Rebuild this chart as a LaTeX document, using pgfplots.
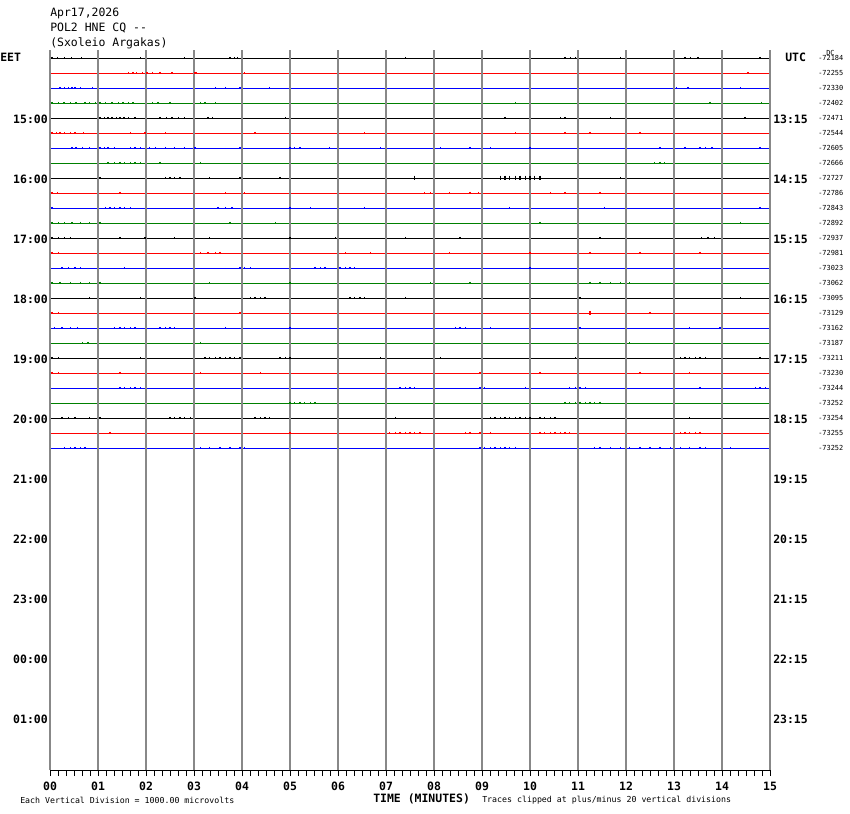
\documentclass[border=0pt]{standalone}
\usepackage{fontspec}
\setmonofont{DejaVu Sans Mono}
\usepackage{pgfplots}
\pgfplotsset{compat=1.18}
\definecolor{tblack}{RGB}{0,0,0}
\definecolor{tred}{RGB}{255,0,0}
\definecolor{tblue}{RGB}{0,0,255}
\definecolor{tgreen}{RGB}{0,128,0}
\definecolor{gridgray}{RGB}{136,136,136}
\newcommand{\fbig}{\ttfamily\fontsize{8.6pt}{10pt}\selectfont}
\newcommand{\fbigb}{\ttfamily\bfseries\fontsize{8.6pt}{10pt}\selectfont}
\newcommand{\fsml}{\ttfamily\fontsize{6.2pt}{7pt}\selectfont}
\newcommand{\ftiny}{\ttfamily\fontsize{5.2pt}{6pt}\selectfont}
\begin{document}
\begin{tikzpicture}
\useasboundingbox (0,0) rectangle (637.5pt,-610.5pt);
\begin{axis}[
  at={(37.5pt,-577.5pt)}, anchor=south west,
  width=540pt, height=540pt, scale only axis,
  xmin=0, xmax=15, ymin=0, ymax=720,
  axis x line=bottom, axis y line=none,
  axis on top,
  x axis line style={-, line width=0.75pt, black},
  xtick={0,1,...,15},
  xticklabels={00,01,02,03,04,05,06,07,08,09,10,11,12,13,14,15},
  minor x tick num=5,
  tick align=outside,
  major tick length=4.5pt, minor tick length=4.5pt,
  tick style={line width=0.75pt, black},
  xmajorgrids,
  major grid style={line width=0.9pt, gridgray},
  xticklabel style={font=\fbigb, inner sep=1pt, yshift=-3.5pt},
  clip=false,
  every axis plot/.append style={line width=0.75pt},
  trace/.style={mark=none},
  noise/.style={only marks, mark=|, mark size=0.9pt, mark options={line width=0.9pt}},
]
% ---- trace baselines ----
\addplot[tblack, trace] coordinates {(0,712) (15,712)};
\addplot[tred, trace] coordinates {(0,697) (15,697)};
\addplot[tblue, trace] coordinates {(0,682) (15,682)};
\addplot[tgreen, trace] coordinates {(0,667) (15,667)};
\addplot[tblack, trace] coordinates {(0,652) (15,652)};
\addplot[tred, trace] coordinates {(0,637) (15,637)};
\addplot[tblue, trace] coordinates {(0,622) (15,622)};
\addplot[tgreen, trace] coordinates {(0,607) (15,607)};
\addplot[tblack, trace] coordinates {(0,592) (15,592)};
\addplot[tred, trace] coordinates {(0,577) (15,577)};
\addplot[tblue, trace] coordinates {(0,562) (15,562)};
\addplot[tgreen, trace] coordinates {(0,547) (15,547)};
\addplot[tblack, trace] coordinates {(0,532) (15,532)};
\addplot[tred, trace] coordinates {(0,517) (15,517)};
\addplot[tblue, trace] coordinates {(0,502) (15,502)};
\addplot[tgreen, trace] coordinates {(0,487) (15,487)};
\addplot[tblack, trace] coordinates {(0,472) (15,472)};
\addplot[tred, trace] coordinates {(0,457) (15,457)};
\addplot[tblue, trace] coordinates {(0,442) (15,442)};
\addplot[tgreen, trace] coordinates {(0,427) (15,427)};
\addplot[tblack, trace] coordinates {(0,412) (15,412)};
\addplot[tred, trace] coordinates {(0,397) (15,397)};
\addplot[tblue, trace] coordinates {(0,382) (15,382)};
\addplot[tgreen, trace] coordinates {(0,367) (15,367)};
\addplot[tblack, trace] coordinates {(0,352) (15,352)};
\addplot[tred, trace] coordinates {(0,337) (15,337)};
\addplot[tblue, trace] coordinates {(0,322) (15,322)};
% ---- small noise ----
\addplot[tblack, noise] coordinates {(0.04,712)(0.15,712)(0.3,712)(0.45,712)(0.65,712)(1.88,712)(2.81,712)(3.75,712)(3.85,712)(3.9,712)(7.4,712)(10.73,712)(10.85,712)(10.94,712)(11.88,712)(13.23,712)(13.35,712)(13.5,712)(14.79,712)};
\addplot[tred, noise] coordinates {(1.63,697)(1.73,697)(1.81,697)(1.92,697)(2.02,697)(2.13,697)(2.29,697)(2.54,697)(3.02,697)(3.06,697)(4.06,697)(14.54,697)};
\addplot[tblue, noise] coordinates {(0.21,682)(0.31,682)(0.38,682)(0.46,682)(0.52,682)(0.63,682)(0.88,682)(3.44,682)(3.65,682)(3.96,682)(4.58,682)(13.06,682)(13.29,682)(14.38,682)};
\addplot[tgreen, noise] coordinates {(0.04,667)(0.17,667)(0.29,667)(0.42,667)(0.54,667)(0.73,667)(0.83,667)(0.94,667)(1.04,667)(1.15,667)(1.29,667)(1.42,667)(1.52,667)(1.63,667)(1.73,667)(2.13,667)(2.25,667)(2.5,667)(3.13,667)(3.23,667)(3.44,667)(9.69,667)(13.75,667)(14.83,667)};
\addplot[tblack, noise] coordinates {(1.04,652)(1.13,652)(1.21,652)(1.29,652)(1.38,652)(1.46,652)(1.54,652)(1.63,652)(1.77,652)(2.29,652)(2.42,652)(2.54,652)(2.67,652)(2.81,652)(3.29,652)(3.38,652)(4.9,652)(9.48,652)(10.63,652)(10.73,652)(11.67,652)(14.48,652)};
\addplot[tred, noise] coordinates {(0.04,637)(0.13,637)(0.21,637)(0.31,637)(0.42,637)(0.52,637)(0.69,637)(1.67,637)(1.98,637)(2.4,637)(4.27,637)(6.56,637)(9.69,637)(10.73,637)(11.25,637)(12.29,637)};
\addplot[tblue, noise] coordinates {(0.46,622)(0.54,622)(0.67,622)(0.83,622)(1.04,622)(1.13,622)(1.21,622)(1.35,622)(1.67,622)(1.77,622)(1.88,622)(2.08,622)(2.19,622)(2.4,622)(2.6,622)(2.81,622)(3.02,622)(3.96,622)(5.0,622)(5.1,622)(5.21,622)(5.83,622)(6.88,622)(8.13,622)(8.75,622)(9.17,622)(10.0,622)(12.71,622)(13.23,622)(13.54,622)(13.65,622)(13.79,622)(14.79,622)};
\addplot[tgreen, noise] coordinates {(1.21,607)(1.35,607)(1.46,607)(1.56,607)(1.67,607)(1.77,607)(1.88,607)(2.29,607)(3.13,607)(12.6,607)(12.71,607)(12.81,607)};
\addplot[tblack, noise] coordinates {(1.04,592)(2.4,592)(2.5,592)(2.6,592)(2.71,592)(3.33,592)(3.96,592)(4.79,592)(11.88,592)};
\addplot[tblack, noise, mark size=1.8pt] coordinates {(7.6,592)(9.38,592)(9.48,592)(9.58,592)(9.69,592)(9.79,592)(9.9,592)(10.0,592)(10.1,592)(10.21,592)};
\addplot[tred, noise] coordinates {(0.04,577)(0.15,577)(1.46,577)(3.65,577)(4.06,577)(7.81,577)(7.92,577)(8.33,577)(8.75,577)(8.92,577)(10.42,577)(10.73,577)(11.46,577)};
\addplot[tblue, noise] coordinates {(0.04,562)(1.15,562)(1.25,562)(1.35,562)(1.46,562)(1.56,562)(1.67,562)(3.5,562)(3.65,562)(3.79,562)(5.0,562)(5.42,562)(6.56,562)(9.58,562)(11.56,562)(14.79,562)};
\addplot[tgreen, noise] coordinates {(0.04,547)(0.17,547)(0.31,547)(0.46,547)(0.63,547)(0.83,547)(1.04,547)(3.75,547)(4.69,547)(10.21,547)(14.38,547)};
\addplot[tblack, noise] coordinates {(0.04,532)(0.17,532)(0.31,532)(0.42,532)(1.46,532)(1.98,532)(2.6,532)(3.33,532)(5.0,532)(5.94,532)(7.4,532)(8.54,532)(11.46,532)(13.58,532)(13.71,532)(13.85,532)};
\addplot[tred, noise] coordinates {(0.04,517)(0.17,517)(3.13,517)(3.29,517)(3.44,517)(3.54,517)(6.15,517)(6.67,517)(8.33,517)(10.0,517)(11.25,517)(12.29,517)(13.54,517)};
\addplot[tblue, noise] coordinates {(0.25,502)(0.38,502)(0.52,502)(0.63,502)(1.56,502)(3.96,502)(4.06,502)(4.17,502)(5.52,502)(5.63,502)(5.73,502)(6.04,502)(6.15,502)(6.25,502)(6.35,502)(10.0,502)};
\addplot[tgreen, noise] coordinates {(0.04,487)(0.21,487)(0.42,487)(0.63,487)(0.83,487)(1.04,487)(3.33,487)(5.0,487)(7.92,487)(8.75,487)(11.25,487)(11.46,487)(11.67,487)(11.88,487)(12.08,487)};
\addplot[tblack, noise] coordinates {(0.83,472)(1.88,472)(3.02,472)(4.17,472)(4.27,472)(4.38,472)(4.48,472)(6.25,472)(6.35,472)(6.46,472)(6.56,472)(7.4,472)(11.04,472)(14.38,472)};
\addplot[tred, noise] coordinates {(0.04,457)(0.17,457)(3.96,457)(12.5,457)};
\addplot[tred, noise, mark size=1.6pt] coordinates {(11.25,457)};
\addplot[tblue, noise] coordinates {(0.1,442)(0.25,442)(0.42,442)(0.58,442)(1.35,442)(1.46,442)(1.56,442)(1.67,442)(1.77,442)(2.29,442)(2.4,442)(2.5,442)(2.6,442)(3.65,442)(5.0,442)(8.44,442)(8.54,442)(8.65,442)(9.17,442)(11.04,442)(13.33,442)(13.96,442)};
\addplot[tgreen, noise] coordinates {(0.67,427)(0.79,427)(3.13,427)(12.08,427)};
\addplot[tblack, noise] coordinates {(0.04,412)(0.17,412)(1.88,412)(3.23,412)(3.33,412)(3.44,412)(3.54,412)(3.65,412)(3.75,412)(3.85,412)(3.96,412)(4.79,412)(4.9,412)(5.0,412)(6.88,412)(8.13,412)(10.94,412)(13.13,412)(13.23,412)(13.33,412)(13.44,412)(13.54,412)(13.65,412)(14.79,412)};
\addplot[tred, noise] coordinates {(0.04,397)(0.17,397)(1.46,397)(3.13,397)(4.38,397)(8.96,397)(10.21,397)(12.29,397)(13.33,397)};
\addplot[tblue, noise] coordinates {(1.46,382)(1.56,382)(1.67,382)(1.77,382)(1.88,382)(7.29,382)(7.4,382)(7.5,382)(7.6,382)(8.96,382)(9.06,382)(9.9,382)(10.83,382)(10.94,382)(11.04,382)(11.15,382)(13.54,382)(14.69,382)(14.79,382)(14.9,382)};
\addplot[tgreen, noise] coordinates {(5.0,367)(5.1,367)(5.21,367)(5.31,367)(5.42,367)(5.52,367)(10.73,367)(10.83,367)(10.94,367)(11.04,367)(11.15,367)(11.25,367)(11.35,367)(11.46,367)};
\addplot[tblack, noise] coordinates {(0.25,352)(0.38,352)(0.52,352)(0.83,352)(1.04,352)(2.5,352)(2.6,352)(2.71,352)(2.81,352)(2.92,352)(4.27,352)(4.38,352)(4.48,352)(4.58,352)(7.19,352)(9.17,352)(9.27,352)(9.38,352)(9.48,352)(9.58,352)(9.69,352)(9.79,352)(9.9,352)(10.0,352)(10.21,352)(10.31,352)(10.42,352)(10.52,352)(13.33,352)};
\addplot[tred, noise] coordinates {(1.25,337)(5.0,337)(7.08,337)(7.19,337)(7.29,337)(7.4,337)(7.5,337)(7.6,337)(7.71,337)(8.65,337)(8.75,337)(8.96,337)(9.17,337)(10.21,337)(10.31,337)(10.42,337)(10.52,337)(10.63,337)(10.73,337)(10.83,337)(13.13,337)(13.23,337)(13.33,337)(13.44,337)(13.54,337)};
\addplot[tblue, noise] coordinates {(0.31,322)(0.42,322)(0.52,322)(0.63,322)(0.73,322)(3.13,322)(3.33,322)(3.54,322)(3.75,322)(3.96,322)(4.06,322)(8.96,322)(9.06,322)(9.17,322)(9.27,322)(9.38,322)(9.48,322)(9.58,322)(9.69,322)(11.35,322)(11.46,322)(11.67,322)(11.88,322)(12.08,322)(12.29,322)(12.5,322)(12.71,322)(12.92,322)(13.13,322)(13.33,322)(13.54,322)(13.65,322)(14.17,322)};
\end{axis}
\begin{scope}[x=0.75pt, y=-0.75pt]
% title block
\node[anchor=base west, inner sep=0] at (50,16) {\fbig Apr17,2026};
\node[anchor=base west, inner sep=0] at (50,31) {\fbig POL2 HNE CQ --};
\node[anchor=base west, inner sep=0] at (50,46) {\fbig (Sxoleio Argakas)};
% left labels
\node[anchor=west, inner sep=0] at (0,57) {\fbigb EET};
\node[anchor=east, inner sep=0] at (48,119) {\fbigb 15:00};
\node[anchor=east, inner sep=0] at (48,179) {\fbigb 16:00};
\node[anchor=east, inner sep=0] at (48,239) {\fbigb 17:00};
\node[anchor=east, inner sep=0] at (48,299) {\fbigb 18:00};
\node[anchor=east, inner sep=0] at (48,359) {\fbigb 19:00};
\node[anchor=east, inner sep=0] at (48,419) {\fbigb 20:00};
\node[anchor=east, inner sep=0] at (48,479) {\fbigb 21:00};
\node[anchor=east, inner sep=0] at (48,539) {\fbigb 22:00};
\node[anchor=east, inner sep=0] at (48,599) {\fbigb 23:00};
\node[anchor=east, inner sep=0] at (48,659) {\fbigb 00:00};
\node[anchor=east, inner sep=0] at (48,719) {\fbigb 01:00};
% right labels
\node[anchor=west, inner sep=0] at (785,57) {\fbigb UTC};
\node[anchor=west, inner sep=0] at (773,119) {\fbigb 13:15};
\node[anchor=west, inner sep=0] at (773,179) {\fbigb 14:15};
\node[anchor=west, inner sep=0] at (773,239) {\fbigb 15:15};
\node[anchor=west, inner sep=0] at (773,299) {\fbigb 16:15};
\node[anchor=west, inner sep=0] at (773,359) {\fbigb 17:15};
\node[anchor=west, inner sep=0] at (773,419) {\fbigb 18:15};
\node[anchor=west, inner sep=0] at (773,479) {\fbigb 19:15};
\node[anchor=west, inner sep=0] at (773,539) {\fbigb 20:15};
\node[anchor=west, inner sep=0] at (773,599) {\fbigb 21:15};
\node[anchor=west, inner sep=0] at (773,659) {\fbigb 22:15};
\node[anchor=west, inner sep=0] at (773,719) {\fbigb 23:15};
% DC values
\node[anchor=west, inner sep=0] at (826,53) {\ftiny DC};
\node[anchor=west, inner sep=0] at (818,58) {\ftiny -72184};
\node[anchor=west, inner sep=0] at (818,73) {\ftiny -72255};
\node[anchor=west, inner sep=0] at (818,88) {\ftiny -72330};
\node[anchor=west, inner sep=0] at (818,103) {\ftiny -72402};
\node[anchor=west, inner sep=0] at (818,118) {\ftiny -72471};
\node[anchor=west, inner sep=0] at (818,133) {\ftiny -72544};
\node[anchor=west, inner sep=0] at (818,148) {\ftiny -72605};
\node[anchor=west, inner sep=0] at (818,163) {\ftiny -72666};
\node[anchor=west, inner sep=0] at (818,178) {\ftiny -72727};
\node[anchor=west, inner sep=0] at (818,193) {\ftiny -72786};
\node[anchor=west, inner sep=0] at (818,208) {\ftiny -72843};
\node[anchor=west, inner sep=0] at (818,223) {\ftiny -72892};
\node[anchor=west, inner sep=0] at (818,238) {\ftiny -72937};
\node[anchor=west, inner sep=0] at (818,253) {\ftiny -72981};
\node[anchor=west, inner sep=0] at (818,268) {\ftiny -73023};
\node[anchor=west, inner sep=0] at (818,283) {\ftiny -73062};
\node[anchor=west, inner sep=0] at (818,298) {\ftiny -73095};
\node[anchor=west, inner sep=0] at (818,313) {\ftiny -73129};
\node[anchor=west, inner sep=0] at (818,328) {\ftiny -73162};
\node[anchor=west, inner sep=0] at (818,343) {\ftiny -73187};
\node[anchor=west, inner sep=0] at (818,358) {\ftiny -73211};
\node[anchor=west, inner sep=0] at (818,373) {\ftiny -73230};
\node[anchor=west, inner sep=0] at (818,388) {\ftiny -73244};
\node[anchor=west, inner sep=0] at (818,403) {\ftiny -73252};
\node[anchor=west, inner sep=0] at (818,418) {\ftiny -73254};
\node[anchor=west, inner sep=0] at (818,433) {\ftiny -73255};
\node[anchor=west, inner sep=0] at (818,448) {\ftiny -73252};
% bottom texts
\node[anchor=west, inner sep=0] at (20,800) {\fsml Each Vertical Division = 1000.00 microvolts};
\node[anchor=west, inner sep=0] at (373,799) {\fbigb TIME (MINUTES)};
\node[anchor=west, inner sep=0] at (482,800) {\fsml Traces clipped at plus/minus 20 vertical divisions};
\end{scope}
\end{tikzpicture}
\end{document}
